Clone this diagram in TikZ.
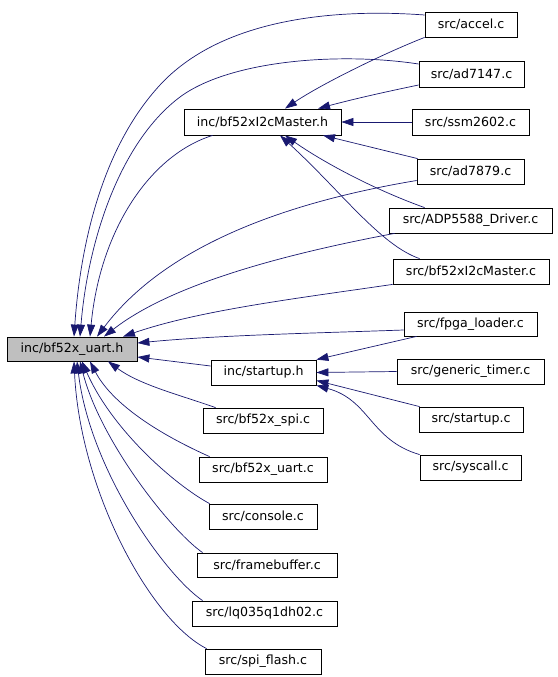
\documentclass[tikz,border=0pt]{standalone}
\usepackage{fontspec}
\setmainfont{DejaVu Sans}
\usetikzlibrary{arrows.meta}
\definecolor{edgeblue}{HTML}{191970}
\definecolor{hlgray}{HTML}{BFBFBF}
\begin{document}
\begin{tikzpicture}[x=1pt,y=-1pt,
  box/.style={draw=black,line width=0.8pt,fill=white,inner sep=0pt,minimum height=25pt,
    font=\fontsize{12.6}{14}\selectfont},
  edge/.style={draw=edgeblue,line width=0.7pt,-{Triangle[length=12pt,width=8pt]}},
]
\useasboundingbox (0,0) rectangle (557,677);
% nodes
\node[box,fill=hlgray,minimum width=130pt,minimum height=24pt] (uart) at (72,349) {inc/bf52x\_uart.h};
\node[box,minimum width=157pt,minimum height=26pt] (i2cH) at (262.5,122) {inc/bf52xI2cMaster.h};
\node[box,minimum width=92pt] (accel) at (471,24.5) {src/accel.c};
\node[box,minimum width=105pt,minimum height=26pt] (ad7147) at (471.5,74) {src/ad7147.c};
\node[box,minimum width=117pt,minimum height=26pt] (ssm) at (470.5,122) {src/ssm2602.c};
\node[box,minimum width=107pt] (ad7879) at (470.5,171.5) {src/ad7879.c};
\node[box,minimum width=163pt] (adp) at (470.5,220.5) {src/ADP5588\_Driver.c};
\node[box,minimum width=156pt] (i2cC) at (471,271.5) {src/bf52xI2cMaster.c};
\node[box,minimum width=133pt,minimum height=24pt] (fpga) at (470.5,324) {src/fpga\_loader.c};
\node[box,minimum width=105pt] (startupH) at (263.5,372.5) {inc/startup.h};
\node[box,minimum width=147pt] (timer) at (470.5,371.5) {src/generic\_timer.c};
\node[box,minimum width=104pt] (startupC) at (471,419.5) {src/startup.c};
\node[box,minimum width=101pt] (syscall) at (470.5,467.5) {src/syscall.c};
\node[box,minimum width=120pt] (spi) at (263,420.5) {src/bf52x\_spi.c};
\node[box,minimum width=128pt] (uartC) at (263,469.5) {src/bf52x\_uart.c};
\node[box,minimum width=108pt] (console) at (263,516.5) {src/console.c};
\node[box,minimum width=140pt,minimum height=24pt] (fb) at (267,565) {src/framebuffer.c};
\node[box,minimum width=145pt] (lq) at (264.5,613.5) {src/lq035q1dh02.c};
\node[box,minimum width=116pt] (spiflash) at (263,661.5) {src/spi\_flash.c};
% edges into inc/bf52x_uart.h from above
\draw[edge] ([yshift=9.5pt]accel.west) .. controls (330,8) and (220,20) .. (160,85)
  .. controls (100,150) and (80,250) .. ([xshift=2pt]uart.north);
\draw[edge] ([yshift=10pt]ad7147.west) .. controls (340,52) and (230,60) .. (180,97)
  .. controls (120,142) and (88,240) .. ([xshift=8pt]uart.north);
\draw[edge] ([xshift=29pt]i2cH.south west) .. controls (150,155) and (100,230) .. ([xshift=18pt]uart.north);
\draw[edge] ([yshift=-9pt]ad7879.west) .. controls (300,200) and (170,240) .. ([xshift=25pt]uart.north);
\draw[edge] ([xshift=6pt]adp.south west) .. controls (280,255) and (170,285) .. ([xshift=32pt]uart.north);
\draw[edge] (i2cC.south west) .. controls (300,298) and (200,310) .. ([xshift=51pt]uart.north);
\draw[edge] ([yshift=-6pt]fpga.west) .. controls (320,333) and (220,335) .. ([yshift=6pt]uart.east);
\draw[edge] ([yshift=6.5pt]startupH.west) -- ([yshift=-8pt]uart.east);
% edges into inc/bf52x_uart.h from below
\draw[edge] ([xshift=13pt]spi.north west) .. controls (180,395) and (140,385) .. ([xshift=36pt]uart.south);
\draw[edge] ([xshift=11pt]uartC.north west) .. controls (150,430) and (110,400) .. ([xshift=18pt]uart.south);
\draw[edge] ([xshift=1pt]console.north west) .. controls (175,485) and (112,430) .. ([xshift=10pt]uart.south);
\draw[edge] ([xshift=6pt]fb.north west) .. controls (170,530) and (100,440) .. ([xshift=8pt]uart.south);
\draw[edge] ([xshift=11pt]lq.north west) .. controls (165,575) and (90,470) .. ([xshift=5pt]uart.south);
\draw[edge] ([xshift=2pt]spiflash.north west) .. controls (150,620) and (80,490) .. ([xshift=2pt]uart.south);
% edges into inc/bf52xI2cMaster.h
\draw[edge] (accel.south west) .. controls (380,55) and (320,85) .. ([xshift=22.5pt]i2cH.north);
\draw[edge] ([yshift=-11pt]ad7147.west) .. controls (380,93) and (350,100) .. ([xshift=55.5pt]i2cH.north);
\draw[edge] (ssm.west) -- (i2cH.east);
\draw[edge] ([xshift=1pt]ad7879.north west) -- ([xshift=60.5pt]i2cH.south);
\draw[edge] ([xshift=36pt]adp.north west) .. controls (370,188) and (320,160) .. ([xshift=22.5pt]i2cH.south);
\draw[edge] ([xshift=27pt]i2cC.north west) .. controls (380,245) and (340,190) .. ([xshift=17.5pt]i2cH.south);
% edges into inc/startup.h
\draw[edge] ([xshift=13pt]fpga.south west) -- (startupH.north east);
\draw[edge] (timer.west) -- (startupH.east);
\draw[edge] ([xshift=1pt]startupC.north west) -- ([yshift=-8pt]startupH.east);
\draw[edge] (syscall.north west) .. controls (370,440) and (370,400) .. (startupH.south east);
\end{tikzpicture}
\end{document}
